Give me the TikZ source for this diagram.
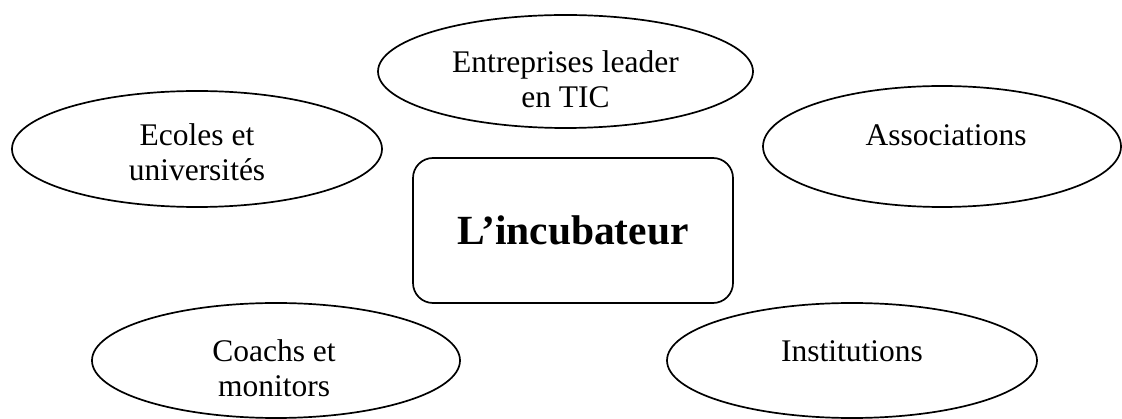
\documentclass[tikz,border=0pt]{standalone}
\usepackage{fontspec}
\setmainfont{Liberation Serif}
\usetikzlibrary{shapes.geometric}
\begin{document}
\begin{tikzpicture}[x=1pt,y=-1pt,
  partner/.style={draw=black, line width=1.7pt, ellipse, inner sep=0pt},
  hub/.style={draw=black, line width=1.7pt, rounded corners=20pt, inner sep=0pt,
    minimum width=320pt, minimum height=145pt,
    font=\fontsize{41.5}{46}\selectfont\bfseries},
  caption/.style={inner sep=0pt, align=center, anchor=north,
    font=\fontsize{31.5}{35.5}\selectfont}
]
\useasboundingbox (0,0) rectangle (1122,419);

% central box
\node[hub] (inc) at (573,230.5) {L’incubateur};

% partner ellipses
\node[partner, minimum width=370pt, minimum height=116pt] (eco) at (197,149) {};
\node[partner, minimum width=375pt, minimum height=113pt] (ent) at (565.5,71.5) {};
\node[partner, minimum width=358pt, minimum height=121pt] (ass) at (942,146.5) {};
\node[partner, minimum width=368pt, minimum height=115pt] (coa) at (276,360.5) {};
\node[partner, minimum width=370pt, minimum height=115pt] (ins) at (852,360.5) {};

% labels, set from the top of each ellipse
\node[caption] (ecoT) at ([yshift=-33pt]eco.north) {Ecoles et\\universités};
\node[caption] (entT) at ([yshift=-36pt]ent.north) {Entreprises leader\\en TIC};
\node[caption] (assT) at ([xshift=4pt,yshift=-39pt]ass.north) {Associations};
\node[caption] (coaT) at ([xshift=-2pt,yshift=-37pt]coa.north) {Coachs et\\monitors};
\node[caption] (insT) at ([yshift=-38pt]ins.north) {Institutions};
\end{tikzpicture}
\end{document}
